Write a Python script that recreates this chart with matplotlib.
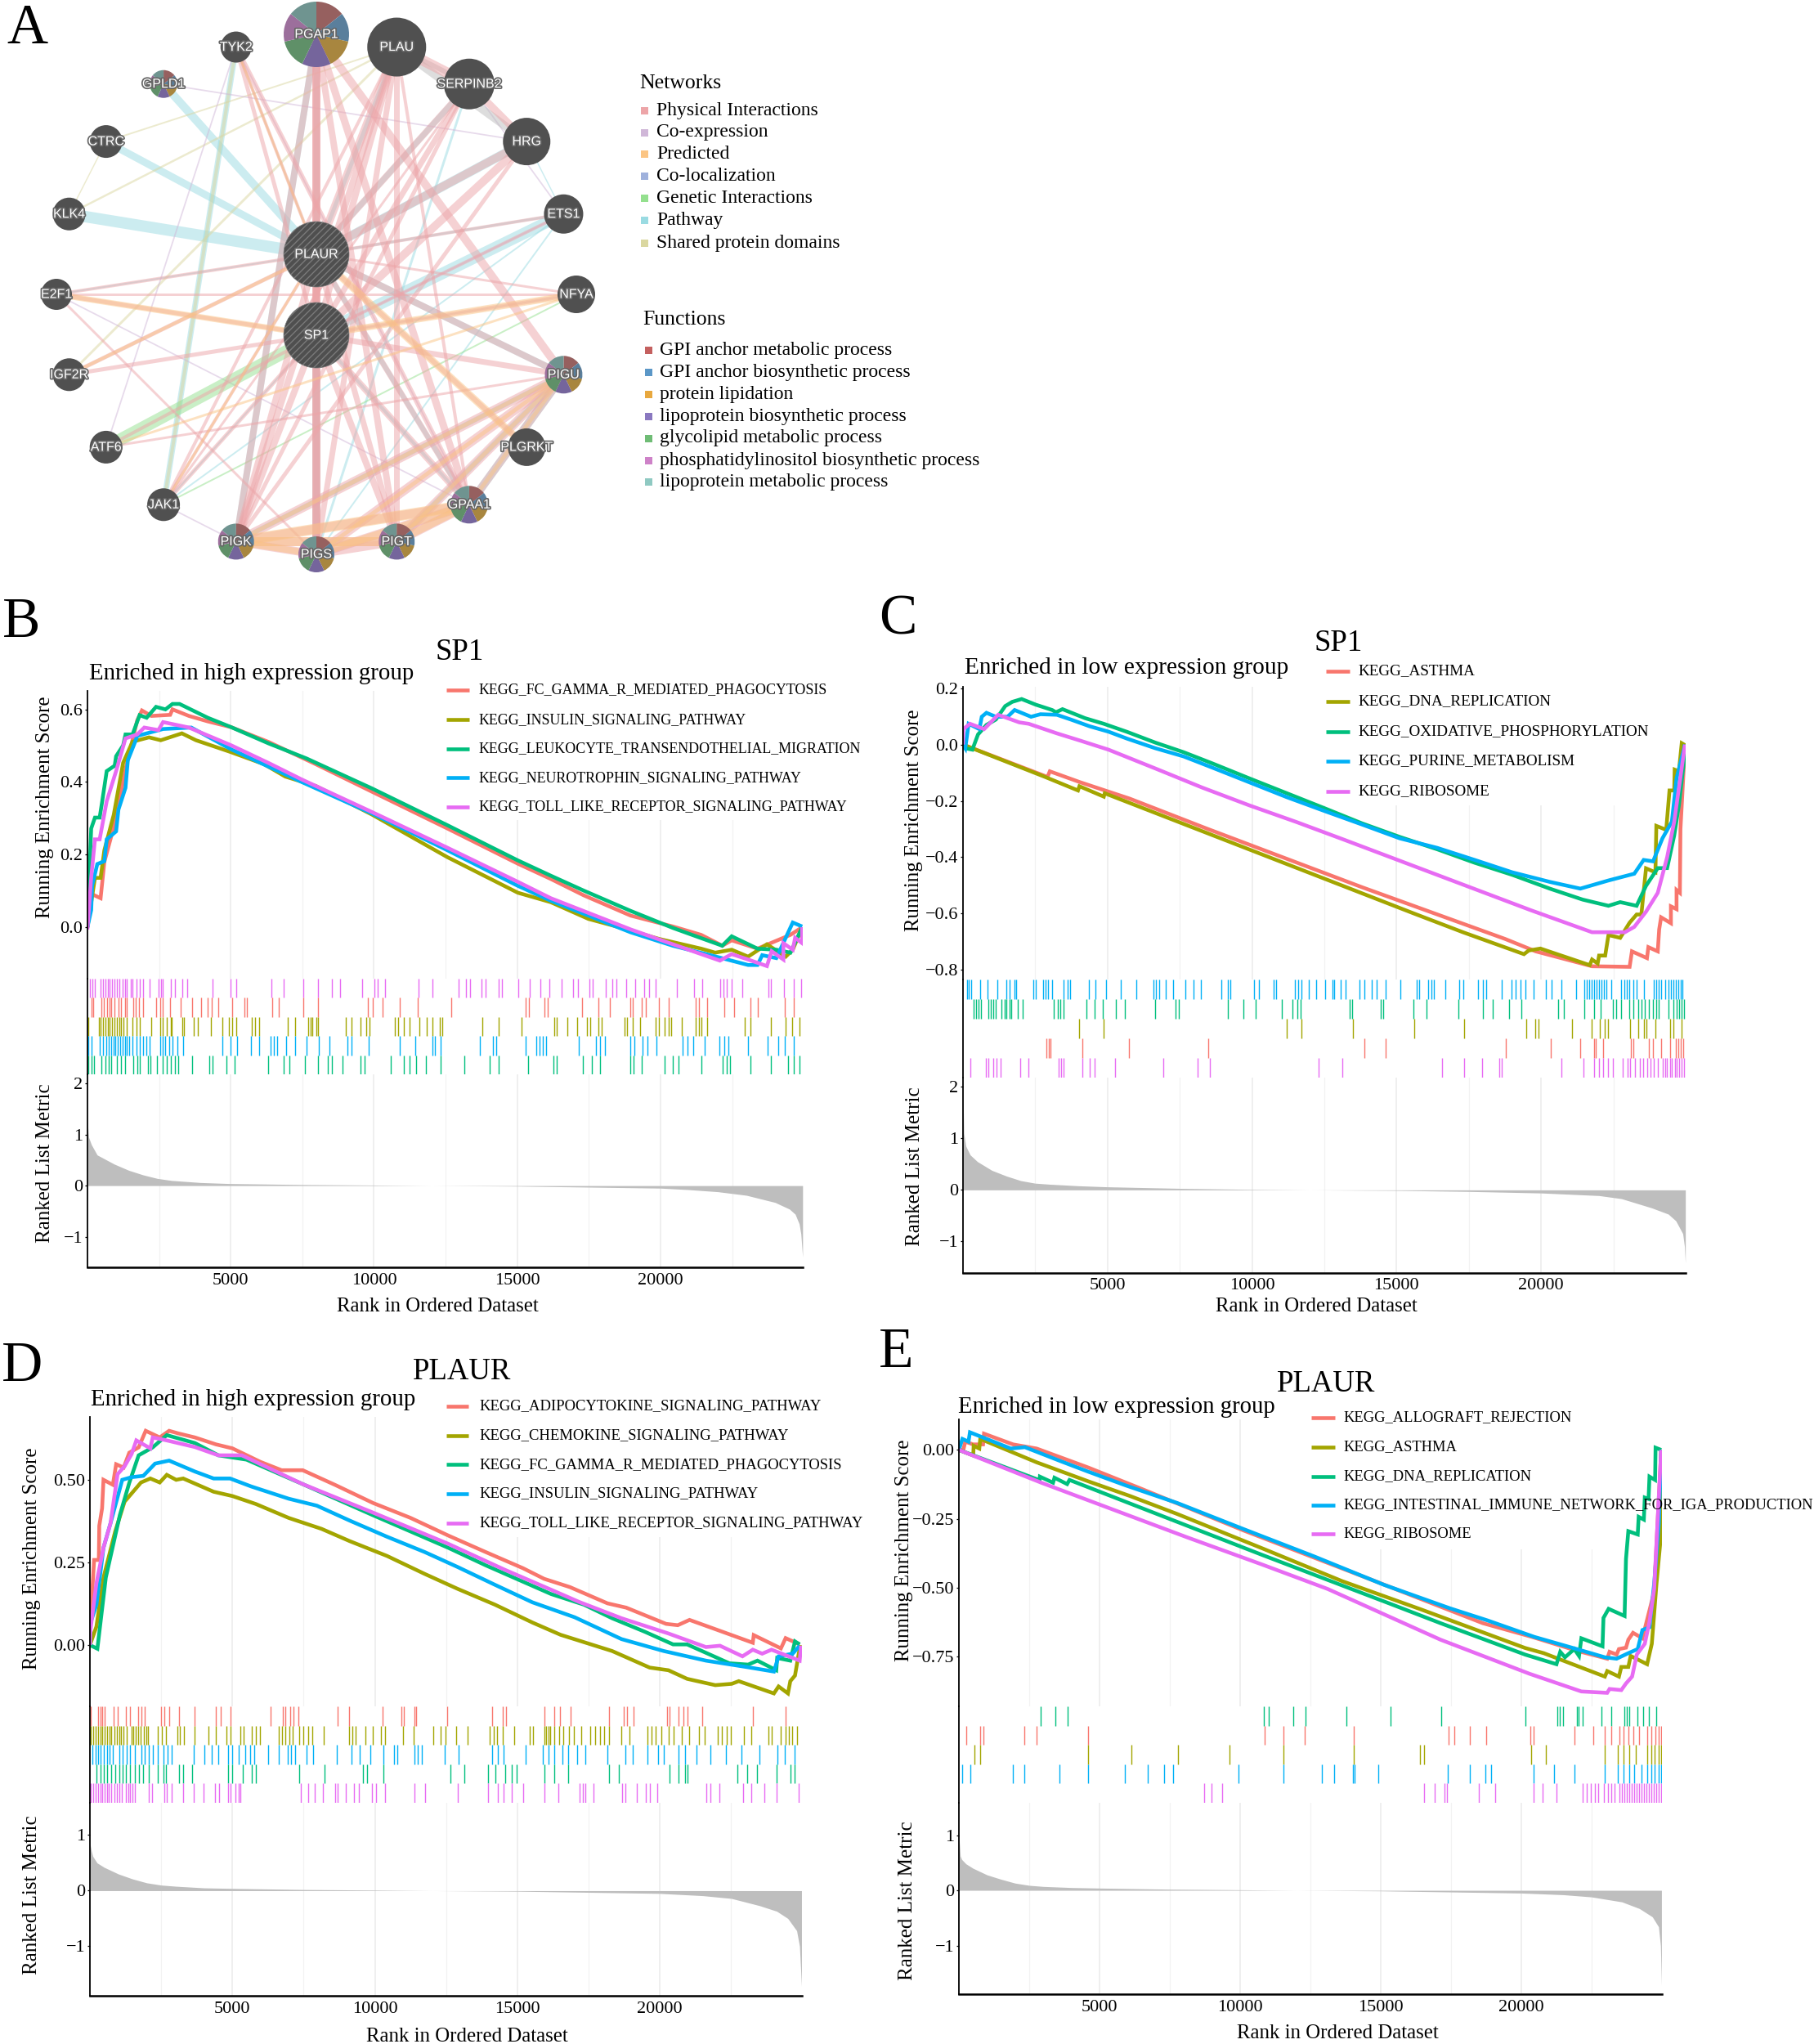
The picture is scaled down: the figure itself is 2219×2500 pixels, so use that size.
import math
import matplotlib
matplotlib.use("Agg")
import matplotlib.pyplot as plt
import matplotlib.patheffects as pe
from matplotlib.patches import Circle, Wedge, Rectangle

plt.rcParams['font.family'] = ['Liberation Serif', 'DejaVu Serif']
W, H = 2219, 2500
SERIF_C = {'red': '#F8766D', 'olive': '#A3A500', 'green': '#00BF7D', 'blue': '#00B0F6', 'mag': '#E76BF3'}

# ---------- Panel A data ----------
RING = ['PGAP1', 'PLAU', 'SERPINB2', 'HRG', 'ETS1', 'NFYA', 'PIGU', 'PLGRKT', 'GPAA1', 'PIGT',
        'PIGS', 'PIGK', 'JAK1', 'ATF6', 'IGF2R', 'E2F1', 'KLK4', 'CTRC', 'GPLD1', 'TYK2']
NODE_SIZE = {'PGAP1': 40, 'PLAU': 36, 'SERPINB2': 31, 'HRG': 29, 'ETS1': 24, 'NFYA': 23, 'PIGU': 23,
             'PLGRKT': 23, 'GPAA1': 23, 'PIGT': 22, 'PIGS': 22, 'PIGK': 22, 'JAK1': 20, 'ATF6': 20,
             'IGF2R': 20, 'E2F1': 19, 'KLK4': 20, 'CTRC': 20, 'GPLD1': 17, 'TYK2': 19, 'PLAUR': 40, 'SP1': 40}
PIE_NODES = ['PGAP1', 'PIGU', 'GPAA1', 'PIGT', 'PIGS', 'PIGK', 'GPLD1']
PIE_COLORS = ['#96605f', '#5a7f9c', '#a8863f', '#75659c', '#5f9068', '#9c6f9c', '#6f9490']
NET_LABELS = ['Physical Interactions', 'Co-expression', 'Predicted', 'Co-localization',
              'Genetic Interactions', 'Pathway', 'Shared protein domains']
NET_COLORS = ['#eda5a8', '#d0b7d8', '#fbc584', '#9fb1dc', '#94e08e', '#9adbe2', '#dad7a0']
FUN_LABELS = ['GPI anchor metabolic process', 'GPI anchor biosynthetic process', 'protein lipidation',
              'lipoprotein biosynthetic process', 'glycolipid metabolic process',
              'phosphatidylinositol biosynthetic process', 'lipoprotein metabolic process']
FUN_COLORS = ['#c4605f', '#5b97c7', '#e8a83e', '#8a78c0', '#6fbc75', '#ce82c8', '#8fc9c2']

E_PATH = [('GPLD1', 'PLAUR', 10), ('CTRC', 'PLAUR', 9), ('KLK4', 'PLAUR', 14), ('E2F1', 'PLAUR', 2), ('ETS1', 'SP1', 14),
          ('HRG', 'PLAUR', 11), ('SERPINB2', 'PLAUR', 7), ('PLAU', 'PLAUR', 5), ('PLAUR', 'PIGU', 8), ('PLAUR', 'GPAA1', 6),
          ('PLAUR', 'PIGS', 6), ('PGAP1', 'PIGK', 8), ('PGAP1', 'PLAUR', 7), ('SP1', 'PIGS', 10), ('PIGU', 'PIGK', 6),
          ('PIGU', 'PIGT', 7), ('PIGU', 'GPAA1', 10), ('JAK1', 'TYK2', 7), ('JAK1', 'ETS1', 2), ('JAK1', 'SP1', 2),
          ('ETS1', 'PLAUR', 3), ('HRG', 'ETS1', 1.5), ('SP1', 'GPAA1', 4), ('ETS1', 'PIGS', 2), ('SERPINB2', 'PIGS', 3)]
E_SHARED = [('PLAU', 'CTRC', 2), ('PLAU', 'KLK4', 2.5), ('PLAU', 'IGF2R', 3), ('CTRC', 'KLK4', 1.5), ('TYK2', 'JAK1', 4)]
E_COEXP = [('GPLD1', 'HRG', 1.8), ('TYK2', 'ATF6', 1.8), ('TYK2', 'GPAA1', 1.8), ('E2F1', 'GPAA1', 1.8), ('JAK1', 'PIGK', 1.8),
           ('SERPINB2', 'ETS1', 1.8), ('NFYA', 'SP1', 2), ('ETS1', 'SP1', 2), ('TYK2', 'PLAUR', 1.8)]
E_GENETIC = [('ATF6', 'SP1', 15), ('JAK1', 'NFYA', 2)]
E_GRAY = [('PLAU', 'HRG', 10), ('PLAU', 'SERPINB2', 6)]
E_PHYS = [('PGAP1', 'PLAUR', 10), ('PGAP1', 'SP1', 8), ('PGAP1', 'PIGS', 10), ('PGAP1', 'PIGK', 8), ('PGAP1', 'PIGT', 8),
          ('PGAP1', 'GPAA1', 9), ('PGAP1', 'PIGU', 10), ('PLAU', 'PLAUR', 10), ('PLAU', 'SP1', 8), ('PLAU', 'PIGK', 8),
          ('PLAU', 'PIGS', 7), ('PLAU', 'SERPINB2', 13), ('SERPINB2', 'HRG', 9), ('SERPINB2', 'PLAUR', 8), ('SERPINB2', 'SP1', 7),
          ('HRG', 'PLAUR', 10), ('HRG', 'SP1', 10), ('ETS1', 'PLAUR', 4), ('ETS1', 'SP1', 4), ('NFYA', 'PLAUR', 3),
          ('TYK2', 'SP1', 5), ('TYK2', 'GPAA1', 6), ('TYK2', 'PLAUR', 4), ('JAK1', 'PLAUR', 4), ('JAK1', 'SP1', 5),
          ('JAK1', 'PLAU', 4), ('JAK1', 'SERPINB2', 3), ('E2F1', 'PLAUR', 4), ('E2F1', 'SP1', 5), ('E2F1', 'PIGS', 3),
          ('IGF2R', 'PLAUR', 5), ('IGF2R', 'SP1', 5), ('ATF6', 'SP1', 4), ('ATF6', 'PIGU', 3), ('NFYA', 'E2F1', 3),
          ('PLAUR', 'PIGU', 8), ('SP1', 'PIGU', 7), ('PLAUR', 'GPAA1', 7), ('SP1', 'GPAA1', 8), ('PLAUR', 'PIGT', 7),
          ('SP1', 'PIGT', 8), ('PLAUR', 'PIGS', 8), ('SP1', 'PIGS', 10), ('PLAUR', 'PIGK', 8), ('SP1', 'PIGK', 8),
          ('PLAUR', 'PLGRKT', 6), ('SP1', 'NFYA', 5), ('PLAUR', 'SP1', 10), ('HRG', 'PIGK', 5), ('SERPINB2', 'PIGK', 5),
          ('PLAU', 'PIGT', 7), ('PLAU', 'GPAA1', 4),
          ('PIGK', 'PIGS', 10), ('PIGK', 'PIGT', 11), ('PIGK', 'GPAA1', 11), ('PIGK', 'PIGU', 11), ('PIGS', 'PIGT', 10),
          ('PIGS', 'GPAA1', 11), ('PIGS', 'PIGU', 11), ('PIGT', 'GPAA1', 11), ('PIGT', 'PIGU', 11), ('GPAA1', 'PIGU', 10)]
E_PRED = [('PIGK', 'PIGS', 8), ('PIGK', 'PIGT', 11), ('PIGK', 'GPAA1', 13), ('PIGS', 'GPAA1', 9), ('PIGT', 'GPAA1', 9),
          ('PIGK', 'PIGU', 5), ('PIGS', 'PIGU', 5), ('PIGT', 'PIGU', 5), ('GPAA1', 'PIGU', 5), ('SP1', 'NFYA', 8),
          ('E2F1', 'SP1', 7), ('PLAUR', 'PLGRKT', 9), ('IGF2R', 'PLAUR', 4), ('ATF6', 'NFYA', 3), ('JAK1', 'PLAUR', 3),
          ('TYK2', 'PLAUR', 3)]

# ---------- Panel B data (rank, running score) ----------
B_NAMES = ['KEGG_FC_GAMMA_R_MEDIATED_PHAGOCYTOSIS', 'KEGG_INSULIN_SIGNALING_PATHWAY',
           'KEGG_LEUKOCYTE_TRANSENDOTHELIAL_MIGRATION', 'KEGG_NEUROTROPHIN_SIGNALING_PATHWAY',
           'KEGG_TOLL_LIKE_RECEPTOR_SIGNALING_PATHWAY']
B_RED = [(0, 0), (131, .092), (459, .08), (590, .18), (1000, .3), (1328, .435), (1738, .57), (1902, .597), (2230, .582), (2886, .585), (2968, .6), (3542, .582), (4198, .567), (5018, .551), (6330, .51), (7970, .449), (9938, .373), (12562, .272), (15022, .175), (16170, .133), (17318, .088), (18958, .032), (20434, .002), (21418, -.021), (22156, -.051), (22484, -.036), (23386, -.059), (24534, -.021), (24944, 0)]
B_OLIVE = [(0, 0), (262, .136), (459, .136), (590, .212), (919, .31), (1246, .453), (1574, .511), (2148, .523), (2558, .515), (3296, .534), (3788, .515), (5018, .482), (6166, .449), (6904, .415), (7970, .389), (9938, .31), (12562, .193), (15022, .095), (16170, .069), (17482, .023), (18466, .002), (19942, -.032), (21418, -.059), (21910, -.07), (22484, -.062), (23058, -.081), (23714, -.047), (24370, -.081), (24616, -.062), (24944, 0)]
B_GREEN = [(0, 0), (131, .272), (262, .302), (426, .302), (508, .343), (672, .43), (951, .445), (1000, .471), (1246, .501), (1328, .531), (1574, .531), (1820, .584), (2066, .577), (2394, .607), (2722, .6), (2968, .615), (3214, .615), (4198, .577), (5018, .551), (6330, .506), (7642, .465), (9938, .382), (12562, .281), (15022, .184), (16170, .142), (17318, .101), (18958, .045), (20434, -.002), (22156, -.051), (22484, -.025), (23386, -.059), (24042, -.062), (24534, -.07), (24944, 0)]
B_BLUE = [(0, 0), (131, .047), (164, .114), (344, .174), (590, .182), (672, .242), (1000, .264), (1082, .324), (1328, .384), (1410, .46), (1656, .509), (1738, .527), (2640, .546), (3624, .55), (5018, .49), (7478, .4), (9938, .313), (12562, .212), (15022, .114), (16170, .073), (18958, -.014), (20434, -.051), (21746, -.077), (23058, -.104), (23386, -.104), (23550, -.077), (24042, -.085), (24370, -.029), (24616, .013), (24944, .002)]
B_MAG = [(0, -.006), (131, .137), (262, .242), (426, .242), (672, .347), (1000, .43), (1328, .52), (1738, .531), (1984, .55), (2476, .543), (2640, .565), (3542, .55), (5018, .501), (6330, .452), (7478, .407), (9938, .317), (12562, .219), (15022, .125), (16170, .08), (18958, -.006), (20434, -.047), (22074, -.092), (22484, -.074), (23058, -.089), (23714, -.107), (23878, -.066), (24288, -.089), (24288, -.044), (24616, -.062), (24698, -.029), (24944, -.044), (24944, 0)]
B_RUG_MAG = [80,160,260,460,540,620,700,780,860,940,1040,1120,1220,1300,1380,1500,1580,1700,1840,1940,2180,2480,2560,2640,2900,3040,3300,3480,4380,5000,5180,6420,6860,7540,8060,8540,8820,9580,10020,10140,10380,11560,12040,12960,13200,13340,13760,13900,14360,14480,15040,15440,15800,16120,16560,16960,17120,17520,17640,18080,18320,18460,18800,19120,19440,19600,19840,20560,21160,21460,22080,22200,22320,22480,22860,23760,23860,24320,24660,24920]
B_RUG_RED = [140,200,500,580,680,760,840,940,1080,1180,1300,1380,1600,1680,1800,1940,2400,2540,2640,2880,3260,3660,3980,4200,4340,4560,5040,5480,5560,6460,6680,7540,8060,9800,9960,10300,10900,11540,12700,15300,15420,15940,16060,17260,17840,18240,18940,19040,19340,19500,19940,20300,21220,21340,21640,22240,22560,23140,23400,24340,24640]
B_RUG_OLIVE = [40,400,460,540,620,700,780,860,940,1020,1100,1180,1260,1380,1580,1700,1840,2240,2540,2640,2780,2900,2940,3300,3380,3700,3840,4300,4700,4940,5040,5180,5740,5840,5980,6980,7240,7700,7780,7860,7980,8060,9020,9220,9540,9740,9840,10740,10840,11040,11240,11580,11840,12040,12300,12380,13780,14340,15140,16300,16380,16740,17100,17440,17540,17840,17940,18740,18840,19040,19300,19840,19940,20140,20300,20380,20740,21240,21340,21440,21640,22940,23140,23840,24380,24580,24860]
B_RUG_BLUE = [40,140,440,540,660,740,820,900,980,1060,1140,1220,1300,1380,1460,1580,1700,1820,1940,2060,2180,2540,2620,2700,2840,2980,3140,3340,4700,4980,5220,5700,5980,6380,6500,6620,6940,7260,7640,8080,8440,9060,9220,9820,10900,11440,12040,12140,12340,13700,14140,14260,15300,15660,15780,15900,16020,17140,17740,17900,18060,18940,19100,19380,19540,19860,20780,20940,21140,21540,22060,22220,22380,23040,23740,24100,24340,24640]
B_RUG_GREEN = [40,140,240,500,640,740,840,1040,1180,1300,1600,1740,1840,2100,2200,2440,2640,2780,2900,3040,3180,3640,4260,4380,4840,5140,6300,6840,7040,7580,8040,8380,8540,8900,9540,9660,10580,11040,11240,11460,11820,12340,13140,14040,14340,15380,16260,16380,17300,17600,17900,18940,19060,19340,20140,20440,20640,21440,22180,22300,22440,23140,23840,24440,24640,24860]
B_METRIC = [(1, 1.25), (40, .95), (140, .8), (340, .6), (940, .42), (1440, .3), (1940, .21), (2440, .14), (2940, .1), (3940, .06), (4940, .04), (7500, .02), (10000, .01), (12000, 0), (15000, -.01), (17500, -.03), (20000, -.05), (21000, -.08), (22000, -.12), (23000, -.19), (24000, -.33), (24500, -.46), (24700, -.56), (24840, -.75), (24900, -.95), (24960, -1.4)]

# ---------- Panel C data ----------
C_NAMES = ['KEGG_ASTHMA', 'KEGG_DNA_REPLICATION', 'KEGG_OXIDATIVE_PHOSPHORYLATION', 'KEGG_PURINE_METABOLISM', 'KEGG_RIBOSOME']
C_RED = [(0, 0), (2923, -.115), (3004, -.095), (4060, -.134), (5765, -.192), (8445, -.299), (13804, -.507), (18757, -.691), (19813, -.735), (21762, -.788), (23061, -.79), (23142, -.735), (23662, -.759), (23710, -.72), (24035, -.735), (24084, -.657), (24150, -.614), (24490, -.635), (24490, -.575), (24685, -.585), (24685, -.517), (24800, -.527), (24820, -.3), (24977, 0)]
C_OLIVE = [(0, 0), (2842, -.115), (3979, -.163), (4028, -.148), (4872, -.185), (4904, -.173), (15590, -.6), (17296, -.667), (19407, -.745), (19570, -.732), (19975, -.725), (21680, -.784), (21762, -.764), (21956, -.778), (22005, -.75), (22216, -.75), (22330, -.677), (22736, -.687), (23061, -.633), (23304, -.604), (23467, -.604), (23629, -.44), (23954, -.454), (23986, -.289), (24327, -.303), (24441, -.163), (24604, -.163), (24620, -.089), (24766, -.095), (24864, .005), (24977, -.002)]
C_GREEN = [(0, 0), (80, -.013), (325, -.018), (520, .036), (812, .07), (1137, .089), (1462, .137), (1705, .152), (2030, .162), (2517, .142), (3086, .123), (3216, .115), (3443, .126), (4222, .094), (4872, .074), (5684, .045), (6658, .007), (7633, -.027), (8607, -.066), (9906, -.12), (11206, -.173), (12505, -.226), (13804, -.28), (15103, -.328), (16402, -.372), (17702, -.42), (19001, -.463), (20300, -.512), (21437, -.551), (22330, -.573), (22736, -.56), (23304, -.573), (23629, -.502), (24035, -.439), (24360, -.439), (24604, -.323), (24766, -.216), (24928, -.071), (24960, 0)]
C_BLUE = [(0, 0), (80, -.013), (195, .074), (568, .055), (650, .099), (812, .113), (1137, .099), (1543, .099), (1786, .123), (2355, .099), (2680, .108), (3248, .106), (3735, .089), (4385, .065), (5034, .046), (5684, .021), (6658, -.013), (7633, -.042), (8607, -.081), (9906, -.134), (11206, -.187), (12505, -.236), (13804, -.284), (15103, -.333), (16402, -.367), (17702, -.41), (19001, -.454), (20300, -.488), (21356, -.512), (22330, -.483), (23223, -.459), (23548, -.41), (23873, -.415), (24198, -.333), (24523, -.274), (24685, -.12), (24977, 0)]
C_MAG = [(0, 0), (10, .055), (244, .074), (731, .055), (1218, .106), (1949, .079), (2274, .074), (3248, .04), (4060, .014), (5034, -.018), (6658, -.085), (8282, -.153), (9906, -.216), (11530, -.275), (13154, -.337), (14778, -.4), (16402, -.463), (18026, -.526), (19650, -.589), (20950, -.637), (21762, -.667), (22898, -.667), (23223, -.648), (23629, -.594), (24035, -.527), (24360, -.4), (24604, -.274), (24977, 0)]
C_RUG_BLUE = [130,210,290,590,840,1180,1510,1600,1790,1850,2440,2520,2770,2860,2940,3070,3490,3610,3700,4370,4580,4960,5460,6010,6590,6670,6800,7010,7270,7690,7980,8230,8930,9160,9240,10080,10250,10750,10840,11470,11590,11720,11970,12220,12520,12770,12850,13060,13230,13730,13900,14150,14320,14620,15120,15710,15790,16090,16210,16300,16690,17170,17300,17810,17980,18100,18650,18980,19110,19280,19450,19740,20160,20370,20700,21210,21500,21590,21670,21760,21840,21920,22010,22090,22180,22260,22430,22760,22890,22970,23060,23180,23310,23560,23900,23980,24070,24150,24280,24400,24490,24570,24650,24740,24820,24900]
C_RUG_GREEN = [380,460,550,630,880,970,1050,1130,1340,1430,1510,1600,1680,1890,2060,3150,3280,3360,3470,4280,4540,4830,5290,5590,6640,7350,7480,9160,9700,10120,11020,11400,11570,11690,13370,13450,14450,14530,15580,16040,17130,18000,18340,18900,19320,20580,20790,21500,21840,22050,22470,22600,22760,23060,23200,23350,23480,23600,23730,23860,23980,24070,24400,24570,24700,24780,24860,24950]
C_RUG_OLIVE = [4010,4870,11200,11700,13500,15610,17350,19480,19810,19900,21070,21740,22030,22200,22320,23070,23360,23570,23650,23950,24450,24570,24870]
C_RUG_RED = [2880,2970,3030,4140,5730,8490,13880,14630,18770,20340,21360,21840,21900,22150,23110,23200,23720,23870,24140,24450,24660,24750,24830,24910]
C_RUG_MAG = [250,800,880,1050,1170,1300,1990,2260,3300,3390,3470,4140,4390,4560,5270,6920,8110,8530,12290,13130,16570,17350,17970,18560,18650,20690,21460,21840,21990,22150,22320,22490,22820,22990,23070,23240,23410,23530,23660,23780,23910,24030,24200,24280,24360,24450,24530,24620,24700,24780,24860,24950]
C_METRIC = [(1, 1.9), (30, 1.1), (100, .85), (250, .68), (500, .55), (1000, .38), (1500, .27), (2000, .18), (2500, .13), (3000, .11), (4000, .08), (5000, .06), (7500, .03), (10000, .01), (12000, 0), (15000, -.01), (17500, -.03), (20000, -.06), (22000, -.11), (22780, -.17), (23830, -.35), (24400, -.47), (24660, -.6), (24900, -.85), (24960, -1.1), (24990, -1.42)]

# ---------- Panel D data ----------
D_NAMES = ['KEGG_ADIPOCYTOKINE_SIGNALING_PATHWAY', 'KEGG_CHEMOKINE_SIGNALING_PATHWAY', 'KEGG_FC_GAMMA_R_MEDIATED_PHAGOCYTOSIS',
           'KEGG_INSULIN_SIGNALING_PATHWAY', 'KEGG_TOLL_LIKE_RECEPTOR_SIGNALING_PATHWAY']
D_RED = [(0, 0), (10, .07), (99, .187), (148, .257), (313, .257), (329, .36), (428, .413), (477, .499), (806, .484), (921, .546), (1184, .536), (1382, .581), (1711, .597), (1958, .647), (2451, .627), (2780, .647), (3109, .639), (3685, .627), (4425, .606), (5001, .594), (5988, .553), (6728, .528), (7468, .528), (8620, .483), (9936, .429), (11252, .384), (12568, .331), (13884, .281), (15200, .232), (15940, .2), (16845, .175), (18161, .126), (18819, .113), (20217, .064), (20628, .06), (21040, .076), (21944, .048), (23260, .007), (23293, .03), (24247, -.01), (24412, .021), (24905, .002)]
D_OLIVE = [(0, 0), (230, .056), (477, .204), (888, .343), (1217, .433), (1793, .491), (2122, .503), (2451, .491), (2698, .514), (3027, .499), (3274, .503), (4343, .463), (5001, .45), (5823, .426), (6975, .384), (8126, .351), (9113, .314), (10429, .269), (11745, .215), (12897, .17), (14213, .122), (15529, .068), (16516, .031), (18325, -.018), (19641, -.068), (20299, -.076), (20957, -.102), (21944, -.121), (22520, -.117), (22767, -.109), (24001, -.146), (24165, -.125), (24494, -.146), (24576, -.109), (24741, -.092), (24872, -.026), (24930, 0)]
D_GREEN = [(0, 0), (263, -.011), (559, .204), (1053, .393), (1382, .49), (1711, .573), (2204, .597), (2698, .634), (3685, .61), (4507, .573), (5494, .56), (7468, .486), (9936, .392), (12568, .294), (13884, .241), (16187, .154), (17338, .122), (18325, .081), (19477, .04), (20464, .002), (20957, .002), (22438, -.055), (23096, -.059), (23425, -.047), (24083, -.076), (24116, -.039), (24576, -.047), (24741, .011), (24905, .002)]
D_BLUE = [(0, 0), (10, .064), (230, .122), (477, .294), (724, .368), (1135, .499), (1464, .507), (1875, .511), (2287, .548), (2780, .557), (3685, .524), (4343, .503), (4919, .503), (5659, .479), (6975, .442), (7962, .421), (9113, .376), (10429, .327), (11745, .281), (12897, .236), (14213, .182), (15529, .129), (17009, .084), (18654, .018), (20135, -.018), (20546, -.026), (21615, -.047), (23096, -.067), (24001, -.08), (24165, -.034), (24658, -.026), (24905, -.002)]
D_MAG = [(0, 0), (10, .04), (230, .187), (477, .294), (724, .368), (971, .516), (1217, .54), (1464, .577), (1629, .618), (2122, .594), (2204, .627), (2698, .618), (3685, .598), (4507, .573), (5330, .573), (7468, .486), (9936, .4), (12568, .306), (14542, .228), (16187, .167), (17174, .13), (18654, .081), (20299, .035), (21615, -.006), (22109, -.002), (22898, -.034), (23260, -.014), (23589, -.026), (23918, -.014), (24905, -.047), (24955, -.002)]
D_RUG_RED = [40,280,360,430,510,830,990,1260,1420,1680,1820,1930,2490,2610,2770,3120,3670,4410,4580,4940,6340,6770,6870,7030,7150,7310,8690,9090,10270,10940,11020,11380,11460,12540,14100,14480,14610,15960,16290,16490,16870,18210,18720,18840,19080,20240,20340,20640,20830,20970,21480,23260,24410]
D_RUG_OLIVE = [40,120,200,280,360,440,520,600,680,760,860,940,1020,1100,1180,1300,1460,1520,1600,1680,1780,1880,1970,2050,2370,2530,2670,3080,3160,3300,3670,4150,4420,4800,4940,5280,5400,5690,5830,5970,6620,6740,6870,6990,7110,7350,7500,7660,7800,8200,9090,9200,9320,9680,9920,10200,10370,11000,11350,12050,12300,12470,12840,13250,14020,14180,14300,14480,14890,15440,15560,15960,16020,16090,16150,16300,16460,16620,16800,16990,17250,17570,17730,17900,18050,18210,18640,18940,19560,19700,19850,20050,20300,20490,20770,21040,21360,21560,22030,22160,22360,22480,22950,23220,23800,23920,24250,24400,24530,24640,24800]
D_RUG_BLUE = [100,200,280,360,490,590,690,790,1030,1140,1280,1420,1580,1820,1930,2070,2210,2370,2570,2730,2860,3650,4010,4270,4500,4840,4980,5230,5450,5630,5770,6240,6620,6950,7070,7210,7600,7840,8650,9180,9480,9830,10310,10670,10780,11380,11490,11650,12440,12940,14120,14320,14520,15300,15900,16100,16290,16590,16790,17090,17380,18170,18800,19060,19560,19950,20150,20640,20890,21290,21760,22320,22870,23500,24130,24390,24730]
D_RUG_GREEN = [240,360,490,590,750,890,1030,1140,1260,1420,1580,1730,1870,2070,2370,2570,2670,3120,3260,3590,4840,4980,5370,5690,5830,7350,8220,9580,9720,10310,12640,13140,13980,14220,14580,14810,14970,15960,16290,16790,18210,18560,20340,20640,20890,20970,22710,23060,23400,24090,24590,24730]
D_RUG_MAG = [40,120,200,280,360,430,510,590,670,750,850,950,1030,1110,1260,1340,1420,1500,1580,2070,2170,2610,2690,2880,3280,3650,3990,4380,4540,4840,4940,5100,5210,5290,7410,7670,7900,8180,8610,8690,8970,9280,9440,9910,10030,10350,11400,11750,12920,13980,14320,14520,14810,15210,15960,16430,17180,17300,17380,17670,18680,18800,19200,19510,19650,19910,21630,21760,22080,22910,23200,23660,24090,24880]
D_METRIC = [(1, .85), (50, .72), (100, .62), (250, .5), (500, .42), (1000, .3), (1500, .21), (2000, .14), (2500, .1), (3000, .08), (4000, .05), (5000, .04), (7500, .02), (10000, .01), (12000, 0), (15000, -.01), (17500, -.03), (20000, -.05), (21500, -.09), (22510, -.14), (23500, -.27), (24100, -.37), (24490, -.5), (24800, -.72), (24900, -1.0), (24970, -1.72)]

# ---------- Panel E data ----------
E_NAMES = ['KEGG_ALLOGRAFT_REJECTION', 'KEGG_ASTHMA', 'KEGG_DNA_REPLICATION', 'KEGG_INTESTINAL_IMMUNE_NETWORK_FOR_IGA_PRODUCTION', 'KEGG_RIBOSOME']
E_RED = [(0, 0), (159, 0), (225, .03), (509, .02), (860, .02), (893, .059), (1929, .02), (2764, .005), (4601, -.064), (6438, -.139), (10112, -.292), (14788, -.476), (18629, -.629), (20383, -.679), (21970, -.729), (23055, -.758), (23138, -.733), (23389, -.743), (23472, -.723), (23723, -.718), (23806, -.689), (23973, -.664), (24307, -.684), (24725, -.515), (24975, 0)]
E_OLIVE = [(0, 0), (509, -.02), (526, .015), (726, .005), (760, .04), (2764, -.045), (4601, -.114), (6103, -.168), (7774, -.233), (10780, -.357), (13619, -.476), (16458, -.58), (20132, -.719), (20800, -.738), (22972, -.823), (23055, -.803), (23472, -.823), (23556, -.788), (23806, -.788), (23889, -.748), (24474, -.778), (24641, -.704), (24808, -.485), (24960, -.317), (24975, 0)]
E_GREEN = [(0, 0), (2870, -.11), (2880, -.097), (3349, -.119), (3399, -.101), (3849, -.124), (3933, -.109), (10780, -.381), (15372, -.56), (17126, -.629), (20132, -.743), (21251, -.778), (21385, -.733), (21552, -.753), (21886, -.723), (22053, -.748), (22136, -.684), (22888, -.713), (22922, -.61), (23105, -.577), (23673, -.603), (23723, -.396), (23806, -.295), (24140, -.307), (24174, -.243), (24358, -.253), (24391, -.173), (24525, -.178), (24558, -.097), (24758, -.109), (24775, .008), (24975, 0)]
E_BLUE = [(0, 0), (125, .04), (342, .03), (393, .064), (1846, .005), (2347, .01), (3599, -.04), (4601, -.079), (5937, -.129), (7774, -.193), (10112, -.287), (12617, -.386), (15122, -.49), (17460, -.575), (18796, -.619), (20466, -.679), (21970, -.723), (22972, -.753), (23389, -.758), (23806, -.738), (24140, -.723), (24307, -.654), (24558, -.644), (24725, -.485), (24892, -.268), (24975, 0)]
E_MAG = [(0, 0), (2930, -.119), (8108, -.317), (10780, -.416), (13118, -.505), (17126, -.689), (20299, -.813), (22136, -.877), (23054, -.882), (23138, -.868), (23556, -.872), (23723, -.848), (23940, -.823), (24107, -.743), (24391, -.704), (24558, -.624), (24725, -.505), (24975, 0)]
E_RUG_GREEN = [2900,3420,3870,10840,11030,11890,12340,13780,15350,17140,20150,21290,21370,21480,21970,22040,22170,22850,23200,23650,23740,23840,24120,24340,24550,24790]
E_RUG_RED = [260,750,880,2340,2770,4600,10880,11550,12300,14040,17420,17610,18170,18750,20320,20450,21890,22550,22980,23200,23480,23630,23800,23970,24190,24490,24620,24770,24880,24960]
E_RUG_OLIVE = [540,750,4600,6130,7800,9610,11550,14040,16400,16530,20360,20880,22980,23440,23630,23840,24060,24490,24620,24750,24880,24960]
E_RUG_BLUE = [110,410,1910,2340,3590,4600,5890,6730,7310,7610,9930,11550,12920,13350,14000,14080,14900,17390,18170,18730,18940,20450,21160,21890,22980,23440,23630,23840,24020,24270,24490,24620,24750,24880,24960]
E_RUG_MAG = [8710,8990,9350,16530,16920,17260,17350,18490,19070,20450,20750,21240,22190,22340,22470,22620,22730,22940,23070,23200,23330,23500,23580,23670,23760,23840,23930,24020,24100,24190,24280,24360,24450,24530,24620,24710,24790,24880,24960]
E_METRIC = [(1, 1.0), (50, .62), (100, .56), (250, .48), (500, .4), (1000, .28), (1500, .2), (2000, .13), (2500, .09), (3000, .07), (4000, .05), (5000, .04), (7500, .02), (10000, .01), (12000, 0), (15000, -.01), (17500, -.03), (20000, -.05), (21500, -.08), (22500, -.12), (23580, -.21), (24200, -.33), (24660, -.48), (24880, -.66), (24950, -1.0), (24985, -1.72)]

fig = plt.figure(figsize=(W / 100, H / 100), dpi=100, facecolor='white')


def axpx(x0, y0, x1, y1, **kw):
    return fig.add_axes([x0 / W, 1 - y1 / H, (x1 - x0) / W, (y1 - y0) / H], **kw)


ov = fig.add_axes([0, 0, 1, 1], zorder=10)
ov.set_xlim(0, W)
ov.set_ylim(H, 0)
ov.axis('off')
ov.patch.set_alpha(0)

# ---------- Panel A ----------
net_ax = fig.add_axes([0, 0, 1, 1], zorder=1)
net_ax.set_xlim(0, W)
net_ax.set_ylim(H, 0)
net_ax.axis('off')
pos = {}
cx, cy, rad = 387, 360, 318
for i, n in enumerate(RING):
    a = math.radians(18 * i)
    pos[n] = (cx + rad * math.sin(a), cy - rad * math.cos(a))
pos['PLAUR'] = (387, 311)
pos['SP1'] = (387, 410)
edge_groups = [(E_PATH, NET_COLORS[5]), (E_SHARED, NET_COLORS[6]), (E_COEXP, NET_COLORS[1]), (E_GENETIC, NET_COLORS[4]),
               (E_GRAY, '#bdbdbd'), (E_PHYS, NET_COLORS[0]), (E_PRED, NET_COLORS[2])]
for edges, col in edge_groups:
    for a, b, w in edges:
        net_ax.plot([pos[a][0], pos[b][0]], [pos[a][1], pos[b][1]], color=col, lw=w * 0.72,
                    alpha=0.5, solid_capstyle='butt', zorder=2)
for n, (x, y) in pos.items():
    r = NODE_SIZE[n]
    if n in PIE_NODES:
        for k, c in enumerate(PIE_COLORS):
            net_ax.add_patch(Wedge((x, y), r, -90 + k * 360 / 7, -90 + (k + 1) * 360 / 7, facecolor=c, edgecolor='none', zorder=5))
    elif n in ('PLAUR', 'SP1'):
        plt.rcParams['hatch.color'] = '#7a7a7a'
        plt.rcParams['hatch.linewidth'] = 1.0
        net_ax.add_patch(Circle((x, y), r, facecolor='#4f4f4f', edgecolor='#7a7a7a', hatch='////', lw=0.5, zorder=5))
    else:
        net_ax.add_patch(Circle((x, y), r, facecolor='#505050', edgecolor='none', zorder=5))
    net_ax.text(x, y, n, color='white', fontsize=11.5, family='Liberation Sans', ha='center', va='center', zorder=6,
                path_effects=[pe.withStroke(linewidth=2.5, foreground='#666666')])

ov.text(8, 36, 'A', fontsize=50, ha='left', va='center')
ov.text(782, 102, 'Networks', fontsize=18.5, ha='left', va='center')
for lab, c, yy in zip(NET_LABELS, NET_COLORS, [135.5, 162, 188.5, 215.5, 242.5, 269.7, 297]):
    ov.add_patch(Rectangle((784, yy - 4.5), 9, 9, facecolor=c, edgecolor='none'))
    ov.text(803, yy, lab, fontsize=17, ha='left', va='center')
ov.text(786, 391, 'Functions', fontsize=18.5, ha='left', va='center')
for lab, c, yy in zip(FUN_LABELS, FUN_COLORS, [428.6, 455.5, 482.4, 509, 536, 563, 589.7]):
    ov.add_patch(Rectangle((789, yy - 4.5), 9, 9, facecolor=c, edgecolor='none'))
    ov.text(807, yy, lab, fontsize=17, ha='left', va='center')


def panel(box, xlim, es_ylim, es_ticks, es_fmt, met_ylim, met_ticks, curves, rugs, metric, names, legend, texts):
    x0, x1, y0, y1, y2, y3 = box
    top = axpx(x0, y0, x1, y1, zorder=2)
    mid = axpx(x0, y1, x1, y2, zorder=2)
    bot = axpx(x0, y2, x1, y3, zorder=2)
    grid_major = [5000, 10000, 15000, 20000]
    grid_minor = [2500, 7500, 12500, 17500, 22500]
    for ax in (top, mid, bot):
        ax.set_xlim(*xlim)
        ax.patch.set_alpha(0)
        for s in ('top', 'right', 'bottom'):
            ax.spines[s].set_visible(False)
        ax.spines['left'].set_linewidth(1.3)
        ax.tick_params(axis='y', labelsize=16, length=2.5, width=0.9, pad=1.5)
    for ax in (top, bot):
        for g in grid_major:
            ax.axvline(g, color='#ebebeb', lw=1.1, zorder=0.3)
        for g in grid_minor:
            ax.axvline(g, color='#f2f2f2', lw=0.9, zorder=0.3)
    # top: running scores
    top.set_ylim(*es_ylim)
    top.set_yticks(es_ticks)
    top.set_yticklabels([es_fmt.format(v).replace('-', '\u2212') for v in es_ticks])
    top.set_xticks([])
    lx0, lx1, ly0, ly1 = legend['box']
    top.add_patch(Rectangle((lx0, ly0), lx1 - lx0, ly1 - ly0, transform=ov.transData, facecolor='white',
                            edgecolor='none', zorder=0.8, clip_on=False))
    for pts, col in curves:
        top.plot([p[0] for p in pts], [p[1] for p in pts], color=SERIF_C[col], lw=3.3, zorder=2,
                 solid_joinstyle='miter', solid_capstyle='butt')
    # middle: rug rows
    mid.set_ylim(len(rugs), 0)
    mid.set_xticks([])
    mid.set_yticks([])
    for r, (ticks, col) in enumerate(rugs):
        mid.vlines(ticks, r, r + 1, color=SERIF_C[col], lw=1.0)
    # bottom: metric
    bot.fill_between([p[0] for p in metric], 0, [p[1] for p in metric], color='#bebebe', lw=0, zorder=1)
    bot.set_ylim(*met_ylim)
    bot.set_yticks(met_ticks)
    bot.set_yticklabels([str(v).replace('-', '\u2212') for v in met_ticks])
    bot.set_xticks([5000, 10000, 15000, 20000])
    bot.tick_params(axis='x', labelsize=16, length=0, pad=5)
    bot.spines['bottom'].set_visible(True)
    bot.spines['bottom'].set_linewidth(1.8)
    # legend
    hx0, hx1, tx = legend['x']
    for nm, (pts, col), yy in zip(names, legend['order'], legend['y']):
        ov.plot([hx0, hx1], [yy, yy], color=SERIF_C[col], lw=3.3, solid_capstyle='butt')
        ov.text(tx, yy, nm, fontsize=legend['size'], ha='left', va='center')
    # text
    lab, lx, ly = texts['panel']
    ov.text(lx, ly, lab, fontsize=50, ha='left', va='center')
    t, tx_, ty_ = texts['gene']
    ov.text(tx_, ty_, t, fontsize=26.5, ha='center', va='center')
    t, tx_, ty_, fs = texts['group']
    ov.text(tx_, ty_, t, fontsize=fs, ha='left', va='center')
    ov.text(texts['es'][0], texts['es'][1], 'Running Enrichment Score', fontsize=17.9, rotation=90, ha='center', va='center')
    ov.text(texts['met'][0], texts['met'][1], 'Ranked List Metric', fontsize=18, rotation=90, ha='center', va='center')
    ov.text(texts['rank'][0], texts['rank'][1], 'Rank in Ordered Dataset', fontsize=17.9, ha='center', va='center')


curves_b = [(B_RED, 'red'), (B_OLIVE, 'olive'), (B_GREEN, 'green'), (B_BLUE, 'blue'), (B_MAG, 'mag')]
panel((107, 982, 845, 1196.7, 1314, 1550), (1, 24965), (-.141, .651), [0, .2, .4, .6], '{:.1f}', (-1.6, 2.18), [-1, 0, 1, 2],
      curves_b,
      [(B_RUG_MAG, 'mag'), (B_RUG_RED, 'red'), (B_RUG_OLIVE, 'olive'), (B_RUG_BLUE, 'blue'), (B_RUG_GREEN, 'green')],
      B_METRIC, B_NAMES,
      {'box': (526, 1070, 830, 1003), 'x': (546, 574, 586), 'y': [843.7, 880.3, 915.9, 951.4, 986.5], 'order': curves_b, 'size': 12.9},
      {'panel': ('B', 3, 762), 'gene': ('SP1', 562, 798), 'group': ('Enriched in high expression group', 109, 824, 20.8),
       'es': (55, 987), 'met': (55, 1423), 'rank': (535, 1598)})

curves_c = [(C_RED, 'red'), (C_OLIVE, 'olive'), (C_GREEN, 'green'), (C_BLUE, 'blue'), (C_MAG, 'mag')]
panel((1178, 2062, 839.5, 1198, 1317.5, 1556.5), (1, 25000), (-.835, .207), [-.8, -.6, -.4, -.2, 0, .2], '{:.1f}', (-1.606, 2.19), [-1, 0, 1, 2],
      curves_c,
      [(C_RUG_BLUE, 'blue'), (C_RUG_GREEN, 'green'), (C_RUG_OLIVE, 'olive'), (C_RUG_RED, 'red'), (C_RUG_MAG, 'mag')],
      C_METRIC, C_NAMES,
      {'box': (1600, 2040, 805, 985), 'x': (1622, 1651, 1661.6), 'y': [821, 858, 895, 931, 967.6], 'order': curves_c, 'size': 13.8},
      {'panel': ('C', 1075, 759), 'gene': ('SP1', 1637, 787), 'group': ('Enriched in low expression group', 1180, 817.5, 21.2),
       'es': (1118, 1003), 'met': (1119, 1427), 'rank': (1610, 1598)})

curves_d = [(D_RED, 'red'), (D_OLIVE, 'olive'), (D_GREEN, 'green'), (D_BLUE, 'blue'), (D_MAG, 'mag')]
panel((110, 981, 1733, 2087, 2205, 2441), (1, 24985), (-.185, .689), [0, .25, .5], '{:.2f}', (-1.89, 1.58), [-1, 0, 1],
      curves_d,
      [(D_RUG_RED, 'red'), (D_RUG_OLIVE, 'olive'), (D_RUG_BLUE, 'blue'), (D_RUG_GREEN, 'green'), (D_RUG_MAG, 'mag')],
      D_METRIC, D_NAMES,
      {'box': (530, 1070, 1705, 1880), 'x': (545.5, 573, 586), 'y': [1719.5, 1755.7, 1791.4, 1827, 1863], 'order': curves_d, 'size': 13.45},
      {'panel': ('D', 2, 1672), 'gene': ('PLAUR', 565, 1678), 'group': ('Enriched in high expression group', 111, 1712, 20.8),
       'es': (39, 1906), 'met': (39, 2318), 'rank': (571, 2491)})

curves_e = [(E_RED, 'red'), (E_OLIVE, 'olive'), (E_GREEN, 'green'), (E_BLUE, 'blue'), (E_MAG, 'mag')]
panel((1173, 2032.6, 1736, 2087, 2205, 2439), (1, 24990), (-.931, .111), [-.75, -.5, -.25, 0], '{:.2f}', (-1.88, 1.585), [-1, 0, 1],
      curves_e,
      [(E_RUG_GREEN, 'green'), (E_RUG_RED, 'red'), (E_RUG_OLIVE, 'olive'), (E_RUG_BLUE, 'blue'), (E_RUG_MAG, 'mag')],
      E_METRIC, E_NAMES,
      {'box': (1590, 2219, 1718, 1895), 'x': (1604, 1633, 1643), 'y': [1734, 1770, 1805.7, 1841, 1876], 'order': curves_e, 'size': 13.3},
      {'panel': ('E', 1075, 1655), 'gene': ('PLAUR', 1622, 1693), 'group': ('Enriched in low expression group', 1172, 1721, 20.7),
       'es': (1106, 1896), 'met': (1110, 2325), 'rank': (1636, 2487)})

fig.savefig('out.png', dpi=100, facecolor='white')
